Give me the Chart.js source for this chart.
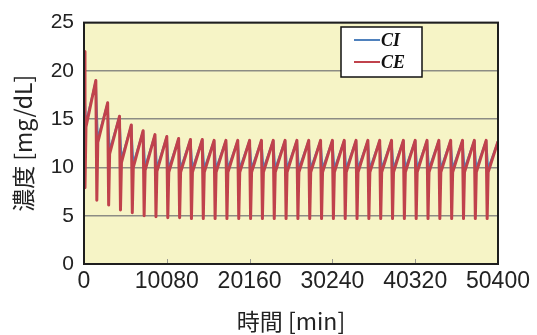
<!DOCTYPE html>
<html>
<head>
<meta charset="utf-8">
<script src="https://cdn.jsdelivr.net/npm/chart.js@4"></script>
<style>
  html, body { margin: 0; padding: 0; background: #fff; }
  #wrap { width: 537px; height: 335px; }
</style>
</head>
<body>
<div id="wrap"><canvas id="concChart" width="537" height="335"></canvas></div>
<script>
// Daily sessions over 5 weeks (minutes)
const DAY = 1440;
const xTicks = [0, 10080, 20160, 30240, 40320, 50400];
const yTicks = [0, 5, 10, 15, 20, 25];

// Concentrations at t = 0
const ceStart = 22.0;
const ciStart = 19.0;

// CE: value at end of each day (just before the next session)
const cePeak = [19.0, 16.7, 15.3, 14.4, 13.8, 13.4, 13.2, 13.0, 12.9, 12.9,
                12.8, 12.8, 12.8, 12.8, 12.8, 12.8, 12.8, 12.8, 12.8, 12.8,
                12.8, 12.8, 12.8, 12.8, 12.8, 12.8, 12.8, 12.8, 12.8, 12.8,
                12.8, 12.8, 12.8, 12.8, 12.7];
// CE: lowest value during each session
const ceTrough = [7.9, 6.6, 6.1, 5.6, 5.3, 5.0, 4.9, 4.8, 4.8, 4.7,
                  4.7, 4.7, 4.7, 4.7, 4.7, 4.7, 4.7, 4.7, 4.7, 4.7,
                  4.7, 4.7, 4.7, 4.7, 4.7, 4.7, 4.7, 4.7, 4.7, 4.7,
                  4.7, 4.7, 4.7, 4.7, 4.7];
// CE: value after the post-session rebound
const ceRebound = [14.2, 12.6, 11.4, 10.5, 10.0, 9.7, 9.6, 9.5, 9.5, 9.5,
                   9.5, 9.5, 9.5, 9.5, 9.5, 9.5, 9.5, 9.5, 9.5, 9.5,
                   9.5, 9.5, 9.5, 9.5, 9.5, 9.5, 9.5, 9.5, 9.5, 9.5,
                   9.5, 9.5, 9.5, 9.5, 9.5];
// CI: lowest value after each session
const ciLow = [14.6, 13.0, 11.8, 10.9, 10.4, 10.1, 10.0, 9.9, 9.9, 9.9,
               9.9, 9.9, 9.9, 9.9, 9.9, 9.9, 9.9, 9.9, 9.9, 9.9,
               9.9, 9.9, 9.9, 9.9, 9.9, 9.9, 9.9, 9.9, 9.9, 9.9,
               9.9, 9.9, 9.9, 9.9, 9.9];

const TROUGH_AT = 120;   // minutes into a session
const REBOUND_AT = 240;

function buildCE() {
    const pts = [{ x: 0, y: ceStart }];
    cePeak.forEach((peak, k) => {
        const t0 = k * DAY;
        pts.push({ x: t0 + TROUGH_AT, y: ceTrough[k] });
        pts.push({ x: t0 + REBOUND_AT, y: ceRebound[k] });
        pts.push({ x: t0 + DAY, y: peak });
    });
    return pts;
}

function buildCI() {
    const pts = [{ x: 0, y: ciStart }];
    cePeak.forEach((peak, k) => {
        const t0 = k * DAY;
        pts.push({ x: t0 + REBOUND_AT, y: ciLow[k] });
        pts.push({ x: t0 + DAY, y: peak });
    });
    return pts;
}

const NUM_FONT = '"Liberation Sans", Arial, sans-serif';
const JP_FONT = '"Noto Sans CJK JP", "Liberation Sans", sans-serif';

// Plot background, frame, inner x tick marks and the legend box
const framePlugin = {
    id: 'frame',
    beforeDraw(chart) {
        const { ctx, chartArea: a } = chart;
        ctx.save();
        ctx.fillStyle = '#f6f4c6';
        ctx.fillRect(a.left, a.top, a.right - a.left, a.bottom - a.top);
        ctx.restore();
    },
    afterDraw(chart) {
        const { ctx, chartArea: a } = chart;
        const xs = chart.scales.x;
        ctx.save();
        // small ticks pointing into the plot
        ctx.strokeStyle = '#9a9a90';
        ctx.lineWidth = 1;
        xTicks.forEach(v => {
            const px = Math.round(xs.getPixelForValue(v)) + 0.5;
            ctx.beginPath();
            ctx.moveTo(px, a.bottom);
            ctx.lineTo(px, a.bottom - 5);
            ctx.stroke();
        });
        // frame
        ctx.strokeStyle = '#1e1e1e';
        ctx.lineWidth = 2;
        ctx.strokeRect(a.left, a.top, a.right - a.left, a.bottom - a.top);

        // legend
        const bx = 341, by = 27, bw = 81, bh = 50;
        ctx.fillStyle = '#ffffff';
        ctx.fillRect(bx, by, bw, bh);
        ctx.strokeStyle = '#111';
        ctx.lineWidth = 1.5;
        ctx.strokeRect(bx, by, bw, bh);
        const items = [
            { label: 'CI', color: chart.data.datasets[0].borderColor, y: by + 13 },
            { label: 'CE', color: chart.data.datasets[1].borderColor, y: by + 35 }
        ];
        ctx.font = 'italic bold 18px "Liberation Serif", "DejaVu Serif", serif';
        ctx.textBaseline = 'middle';
        ctx.textAlign = 'left';
        items.forEach(it => {
            ctx.strokeStyle = it.color;
            ctx.lineWidth = 2;
            ctx.beginPath();
            ctx.moveTo(bx + 13, it.y);
            ctx.lineTo(bx + 39, it.y);
            ctx.stroke();
            ctx.fillStyle = '#111';
            ctx.fillText(it.label, bx + 40, it.y + 1);
        });
        ctx.restore();
    }
};

const ctx = document.getElementById('concChart').getContext('2d');
new Chart(ctx, {
    type: 'line',
    data: {
        datasets: [
            {
                label: 'CI',
                data: buildCI(),
                borderColor: '#4f81bd',
                borderWidth: 2,
                borderJoinStyle: 'round',
                pointRadius: 0,
                tension: 0,
                order: 1
            },
            {
                label: 'CE',
                data: buildCE(),
                borderColor: '#c0424c',
                borderWidth: 3,
                borderJoinStyle: 'round',
                pointRadius: 0,
                tension: 0,
                order: 0
            }
        ]
    },
    options: {
        responsive: false,
        animation: false,
        layout: { padding: { left: 0, right: 39, top: 19, bottom: 0 } },
        plugins: {
            legend: { display: false },
            tooltip: { enabled: false }
        },
        scales: {
            x: {
                type: 'linear',
                min: 0,
                max: 50400,
                afterBuildTicks(scale) { scale.ticks = xTicks.map(v => ({ value: v })); },
                afterFit(scale) { scale.height = 71; },
                ticks: {
                    color: '#222',
                    padding: 4,
                    maxRotation: 0,
                    autoSkip: false,
                    callback: v => String(v),
                    font: { family: NUM_FONT, size: 23 }
                },
                grid: { display: false, drawTicks: false },
                border: { display: false },
                title: {
                    display: true,
                    text: '時間 [min]',
                    color: '#222',
                    padding: { top: 0, bottom: 0 },
                    font: { family: JP_FONT, size: 23 }
                }
            },
            y: {
                min: 0,
                max: 25,
                afterBuildTicks(scale) { scale.ticks = yTicks.map(v => ({ value: v })); },
                afterFit(scale) { scale.width = 84; },
                ticks: {
                    color: '#222',
                    padding: 10,
                    callback: v => String(v),
                    font: { family: NUM_FONT, size: 21 }
                },
                grid: { color: '#8c8c84', lineWidth: 1.5, drawTicks: false },
                border: { display: false },
                title: {
                    display: true,
                    text: '濃度 [mg/dL]',
                    color: '#222',
                    padding: { top: 9, bottom: 0 },
                    font: { family: JP_FONT, size: 23 }
                }
            }
        }
    },
    plugins: [framePlugin]
});
</script>
</body>
</html>
